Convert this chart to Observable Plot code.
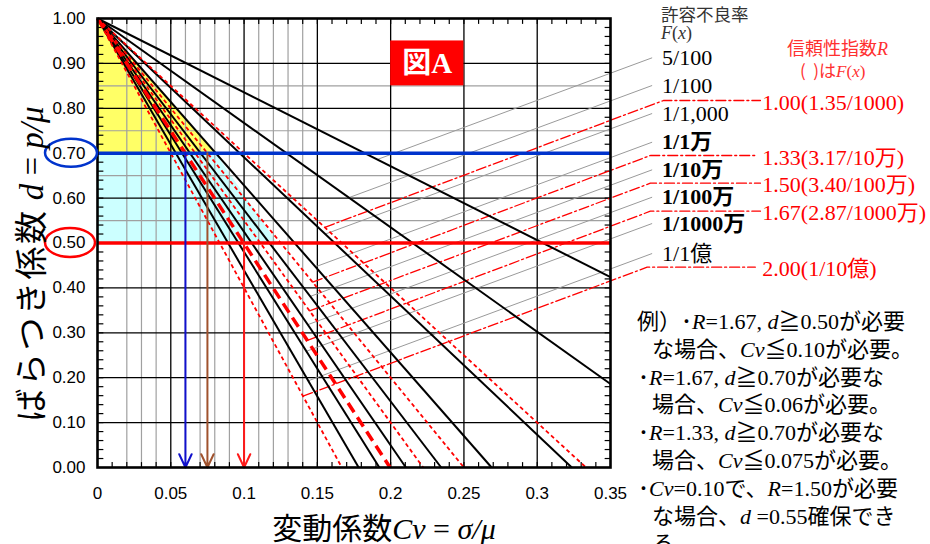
<!DOCTYPE html>
<html><head><meta charset="utf-8">
<script src="https://cdn.jsdelivr.net/npm/d3@7"></script>
<script src="https://cdn.jsdelivr.net/npm/@observablehq/plot@0.6"></script>
<style>
body{margin:0;background:#fff;}
#chart{position:relative;width:930px;height:544px;overflow:hidden;}
text{white-space:pre;}
</style></head><body><div id="chart"></div>
<script>
// ---------- data ----------
const xTickValues = [0,0.05,0.1,0.15,0.2,0.25,0.3,0.35];
const xTickLabels = ["0","0.05","0.1","0.15","0.2","0.25","0.3","0.35"];
const yTickValues = [0,0.1,0.2,0.3,0.4,0.5,0.6,0.7,0.8,0.9,1.0];
const yTickLabels = ["0.00","0.10","0.20","0.30","0.40","0.50","0.60","0.70","0.80","0.90","1.00"];
const gridMajorX = [0.05,0.1,0.15,0.2,0.25,0.3];
const gridMinorX = [0.02,0.03,0.04,0.06,0.07,0.08,0.09,0.11,0.12,0.13,0.14];
const gridMajorY = [0.1,0.2,0.3,0.4,0.5,0.6,0.7,0.8,0.9];
const gridMinorY = [0.55,0.65,0.75,0.85];
const minorTickStepX = 0.01, minorTickStepY = 0.02;

// all design lines start at (Cv, d) = (0, 1)
const originCv = 0, originD = 1;

// allowable defect rate F(x) lines (black)
const fLabels = ["5/100","1/100","1/1,000","1/1万","1/10万","1/100万","1/1000万","1/1億"];
const fBold   = [false,false,false,true,true,true,true,false];
const fEndCv  = [0.35,0.35,0.3236,0.2689,0.2345,0.2104,0.1923,0.1782];
const fEndD   = [0.424,0.186,0,0,0,0,0,0];
const fLeadCv = [0.1909,0.1715,0.1555,0.1487,0.1451,0.1434,0.1426,0.1437];
const fLeadD  = [0.686,0.601,0.520,0.447,0.381,0.318,0.259,0.193];
const fLabelD = [0.9125,0.8508,0.7884,0.7245,0.6630,0.6020,0.5434,0.4766];
const fLeadEndCv = 0.3784, fLabelCv = 0.3852;

// reliability index R lines (red)
const rLabels = ["1.00(1.35/1000)","1.33(3.17/10万)","1.50(3.40/100万)","1.67(2.87/1000万)","2.00(1/10億)"];
const rEndCv  = [0.3333,0.25,0.2222,0.1996,0.1667];
const rThick  = [false,false,false,true,false];
const rLeadCv = [0.1551,0.1468,0.1447,0.1432,0.1402];
const rLeadD  = [0.535,0.413,0.349,0.283,0.159];
const rKneeCv = [0.3861,0.3772,0.3772,0.3772,0.3750];
const rKneeD  = [0.8174,0.6949,0.6332,0.5708,0.4461];
const rTailCv = [0.4523,0.4502,0.4523,0.4523,0.4488];
const rLabelCv = 0.4536;

// highlighted regions
const yellowCv = [0,0,0.0807,0];
const yellowD  = [1,0.7,0.7,1];
const cyanCv = [0,0.0807,0.1226,0,0];
const cyanD  = [0.7,0.7,0.5,0.5,0.7];

// requirement levels and resulting Cv arrows
const levelD = [0.7,0.5];
const levelColor = ["#0033cc","#ff0000"];
const arrowCv = [0.06,0.075,0.10];
const arrowFromD = [0.7,0.7,0.5];
const arrowColor = ["#1010cc","#a0522d","#ff1a1a"];

// ---------- build rows ----------
const fRows = fLabels.map((label,i)=>({label,bold:fBold[i],x1:originCv,y1:originD,x2:fEndCv[i],y2:fEndD[i],
  lx1:fLeadCv[i],ly1:fLeadD[i],lx2:fLeadEndCv,ly2:fLabelD[i],tx:fLabelCv}));
const rRows = rLabels.map((label,i)=>({label,thick:rThick[i],x1:originCv,y1:originD,x2:rEndCv[i],y2:0,
  tx:rLabelCv,ty:rKneeD[i]}));
const rLead = rLabels.flatMap((l,i)=>[
  {s:i,x:rLeadCv[i],y:rLeadD[i]},{s:i,x:rKneeCv[i],y:rKneeD[i]},{s:i,x:rTailCv[i],y:rKneeD[i]}]);
const yellow = yellowCv.map((x,i)=>({x,y:yellowD[i]}));
const cyan = cyanCv.map((x,i)=>({x,y:cyanD[i]}));
const arrows = arrowCv.map((x,i)=>({x,y1:arrowFromD[i],c:arrowColor[i]}));

// inner tick marks (short segments along the frame, pointing inward)
const tickLenD = 0.012, tickLenCv = 0.004;
const xMinor = d3.range(1,35).map(i=>+(i*minorTickStepX).toFixed(2));
const yMinor = d3.range(1,50).map(i=>+(i*minorTickStepY).toFixed(2));
const tickSegs = [
  ...xMinor.map(x=>({x1:x,x2:x,y1:0,y2:tickLenD})),
  ...xMinor.map(x=>({x1:x,x2:x,y1:1,y2:1-tickLenD})),
  ...yMinor.map(y=>({x1:0,x2:tickLenCv,y1:y,y2:y})),
  ...yMinor.map(y=>({x1:0.35,x2:0.35-tickLenCv,y1:y,y2:y}))
];

const serif = "'Liberation Serif','Times New Roman',serif";
const jp = "'Noto Sans CJK JP',sans-serif";
const labelFont = "'Liberation Serif','Noto Sans CJK JP',serif";

const chart = Plot.plot({
  width: 930, height: 544,
  marginLeft: 97, marginRight: 320, marginTop: 18, marginBottom: 77,
  x: {domain: [0,0.35]},
  y: {domain: [0,1]},
  style: {fontFamily: "'Liberation Sans',Arial,sans-serif", fontSize: "17px", color: "black", background: "white", overflow: "visible"},
  marks: [
    Plot.line(yellow, {x:"x", y:"y", fill:"#ffff66", stroke:"none"}),
    Plot.line(cyan, {x:"x", y:"y", fill:"#ccffff", stroke:"none"}),
    Plot.ruleX(gridMinorX, {stroke:"#a0a0a0", strokeWidth:1.2}),
    Plot.ruleY(gridMinorY, {stroke:"#a0a0a0", strokeWidth:1.2}),
    Plot.ruleX(gridMajorX, {stroke:"black", strokeWidth:1.3}),
    Plot.ruleY(gridMajorY, {stroke:"black", strokeWidth:1.3}),
    Plot.link(tickSegs, {x1:"x1", y1:"y1", x2:"x2", y2:"y2", stroke:"black", strokeWidth:1.2}),
    // leaders
    Plot.link(fRows, {x1:"lx1", y1:"ly1", x2:"lx2", y2:"ly2", stroke:"#9a9a9a", strokeWidth:1}),
    Plot.line(rLead, {x:"x", y:"y", z:"s", stroke:"#ff0000", strokeWidth:1.3, strokeDasharray:"10,3,2,3"}),
    // F(x) lines
    Plot.link(fRows, {x1:"x1", y1:"y1", x2:"x2", y2:"y2", stroke:"black", strokeWidth:2}),
    // R lines
    Plot.link(rRows.filter(d=>!d.thick), {x1:"x1", y1:"y1", x2:"x2", y2:"y2", stroke:"#ff0000", strokeWidth:1.8, strokeDasharray:"4,3"}),
    Plot.link(rRows.filter(d=>d.thick), {x1:"x1", y1:"y1", x2:"x2", y2:"y2", stroke:"#ff0000", strokeWidth:3.5, strokeDasharray:"11,6"}),
    // requirement levels
    Plot.ruleY([levelD[0]], {stroke:levelColor[0], strokeWidth:3.5}),
    Plot.ruleY([levelD[1]], {stroke:levelColor[1], strokeWidth:3.5}),
    Plot.arrow(arrows, {x1:"x", y1:"y1", x2:"x", y2:0, stroke:"c", strokeWidth:2, headLength:11, headAngle:50}),
    // frame and axes
    Plot.frame({stroke:"black", strokeWidth:2.6}),
    Plot.axisX({ticks: xTickValues, tickFormat: d => xTickLabels[xTickValues.indexOf(d)], tickSize:0, tickPadding:19, label:null, fontSize:17}),
    Plot.axisY({ticks: yTickValues, tickFormat: d => yTickLabels[yTickValues.indexOf(d)], tickSize:0, tickPadding:12, label:null, fontSize:17}),
    // Figure tag
    Plot.rect([{x1:0.2,x2:0.25,y1:0.85,y2:0.95}], {x1:"x1",x2:"x2",y1:"y1",y2:"y2", fill:"#ff0000"}),
    Plot.text([{x:0.225,y:0.9,t:"図A"}], {x:"x", y:"y", text:"t", fill:"white", fontWeight:"bold", fontSize:29, fontFamily:labelFont}),
    // legend labels
    Plot.text(fRows.filter(d=>!d.bold), {x:"tx", y:"ly2", text:"label", textAnchor:"start", fontSize:22, fontFamily:labelFont, fill:"black"}),
    Plot.text(fRows.filter(d=>d.bold), {x:"tx", y:"ly2", text:"label", textAnchor:"start", fontSize:22, fontWeight:"bold", fontFamily:labelFont, fill:"black"}),
    Plot.text(rRows, {x:"tx", y:"ty", text:"label", textAnchor:"start", dy:2, fontSize:22, fontFamily:labelFont, fill:"#ff0000"})
  ]
});
document.getElementById("chart").appendChild(chart);

// ---------- rich text annotations ----------
const svg = d3.select(chart);
const STY = {
  j: {family: jp, style: "normal"},
  J: {family: jp, style: "normal", spacing: 2.5},
  i: {family: serif, style: "italic"},
  s: {family: serif, style: "normal"}
};
function rich(x, y, parts, opts = {}) {
  const t = svg.append("text").attr("x", x).attr("y", y)
    .attr("font-size", opts.size || 20).attr("fill", opts.fill || "black")
    .attr("text-anchor", opts.anchor || "start");
  if (opts.transform) t.attr("transform", opts.transform);
  for (const [s, k] of parts) {
    const ts = t.append("tspan").text(s).attr("font-family", STY[k].family).attr("font-style", STY[k].style);
    if (STY[k].spacing) ts.attr("letter-spacing", STY[k].spacing);
  }
  return t;
}
const ys = chart.scale("y");

// circles around 0.70 and 0.50
svg.append("ellipse").attr("cx", 71).attr("cy", ys.apply(levelD[0])).attr("rx", 26).attr("ry", 14)
  .attr("fill", "none").attr("stroke", levelColor[0]).attr("stroke-width", 2.5);
svg.append("ellipse").attr("cx", 70).attr("cy", ys.apply(levelD[1])).attr("rx", 25).attr("ry", 14.5)
  .attr("fill", "none").attr("stroke", levelColor[1]).attr("stroke-width", 2.5);

// axis titles
rich(0, 0, [["ばらつき係数", "J"], [" d", "i"], [" = ", "s"], ["p/μ", "i"]],
  {size: 33, anchor: "middle", transform: "translate(43,264) rotate(-90)"});
rich(384, 539, [["変動係数", "j"], ["Cv", "i"], [" = ", "s"], ["σ/μ", "i"]], {size: 30, anchor: "middle"});

// legend headers
rich(661, 20.5, [["許容不良率", "j"]], {size: 17.5, fill: "#333"});
rich(661, 39, [["F", "i"], ["(", "s"], ["x", "i"], [")", "s"]], {size: 18, fill: "#333"});
rich(787, 55, [["信頼性指数", "j"], ["R", "i"]], {size: 18, fill: "#ff3030"});
rich(800, 77, [["(  )は", "j"], ["F", "i"], ["(", "s"], ["x", "i"], [")", "s"]], {size: 17, fill: "#ff3030"});

// worked examples
const ex = [
  [637, [["例）･", "j"], ["R", "i"], ["=1.67, ", "s"], ["d", "i"], ["≧", "j"], ["0.50", "s"], ["が必要", "j"]]],
  [652, [["な場合、", "j"], ["Cv", "i"], ["≦", "j"], ["0.10", "s"], ["が必要。", "j"]]],
  [638, [["･", "j"], ["R", "i"], ["=1.67, ", "s"], ["d", "i"], ["≧", "j"], ["0.70", "s"], ["が必要な", "j"]]],
  [652, [["場合、", "j"], ["Cv", "i"], ["≦", "j"], ["0.06", "s"], ["が必要。", "j"]]],
  [638, [["･", "j"], ["R", "i"], ["=1.33, ", "s"], ["d", "i"], ["≧", "j"], ["0.70", "s"], ["が必要な", "j"]]],
  [652, [["場合、", "j"], ["Cv", "i"], ["≦", "j"], ["0.075", "s"], ["が必要。", "j"]]],
  [638, [["･", "j"], ["Cv", "i"], ["=0.10", "s"], ["で、", "j"], ["R", "i"], ["=1.50", "s"], ["が必要", "j"]]],
  [652, [["な場合、", "j"], ["d", "i"], [" =0.55", "s"], ["確保でき", "j"]]],
  [652, [["る。", "j"]]]
];
ex.forEach(([x, parts], i) => rich(x, 329 + i * 27.8, parts, {size: 22}));
</script></body></html>
